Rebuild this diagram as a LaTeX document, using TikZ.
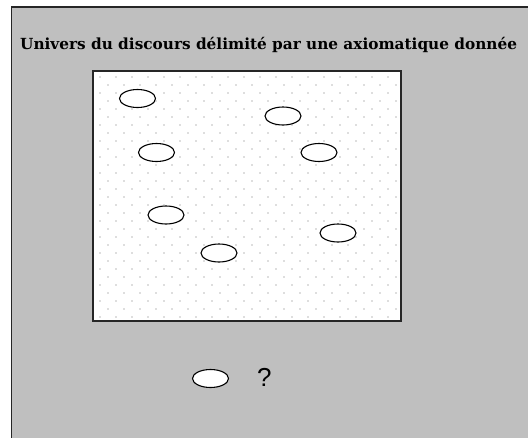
\documentclass[tikz,border=0pt]{standalone}
\usepackage{fontspec}
\setmainfont{DejaVu Serif}
\setsansfont{Liberation Sans}
\tikzset{
  cadre/.style={draw=black!85, line width=1.8pt},
  objet/.style={ellipse, draw=black, line width=1.1pt, fill=white,
                minimum width=36pt, minimum height=18pt, inner sep=0pt},
  point/.style={fill=black!13}
}
\usetikzlibrary{shapes.geometric}
\begin{document}
\begin{tikzpicture}[x=1pt, y=-1pt]
        \useasboundingbox (0,0) rectangle (528,437);

        % --- Fond gris (univers) ---
        \fill[gray!50] (11.5,7) rectangle (540,450);
        \draw[cadre] (11.5,450) -- (11.5,7) -- (540,7);

        % --- Titre ---
        \node[anchor=base west, inner sep=0pt, font=\fontsize{15.3}{18}\selectfont\bfseries] (titre)
          at (20,49) {Univers du discours délimité par une axiomatique donnée};

        % --- Domaine délimité (trame de points) ---
        \fill[white] (93,71) rectangle (401,321);
        \foreach \j in {0,...,30} {
          \pgfmathsetmacro{\dec}{mod(\j,2)*8}
          \foreach \i in {0,...,18} {
            \pgfmathsetmacro{\xx}{100+\dec+16*\i}
            \pgfmathsetmacro{\yy}{77+8*\j}
            \ifdim\xx pt<397pt \ifdim\yy pt<318pt
              \fill[point] (\xx-0.7,\yy-0.7) rectangle (\xx+0.7,\yy+0.7);
            \fi\fi
          }
        }
        \draw[cadre] (93,71) rectangle (401,321);

        % --- Objets ---
        \node[objet] (o1) at (137.5,98.5) {};
        \node[objet] (o2) at (283,116) {};
        \node[objet] (o3) at (156.5,152.5) {};
        \node[objet] (o4) at (319,152.5) {};
        \node[objet] (o5) at (166,215) {};
        \node[objet] (o6) at (219,253) {};
        \node[objet] (o7) at (338,233) {};

        % --- Objet hors du domaine ---
        \node[objet] (o8) at (210.5,378.5) {};
        \node[font=\sffamily\fontsize{26}{28}\selectfont, anchor=base west, inner sep=0pt] (quest) at (257,386) {?};

\end{tikzpicture}
\end{document}
